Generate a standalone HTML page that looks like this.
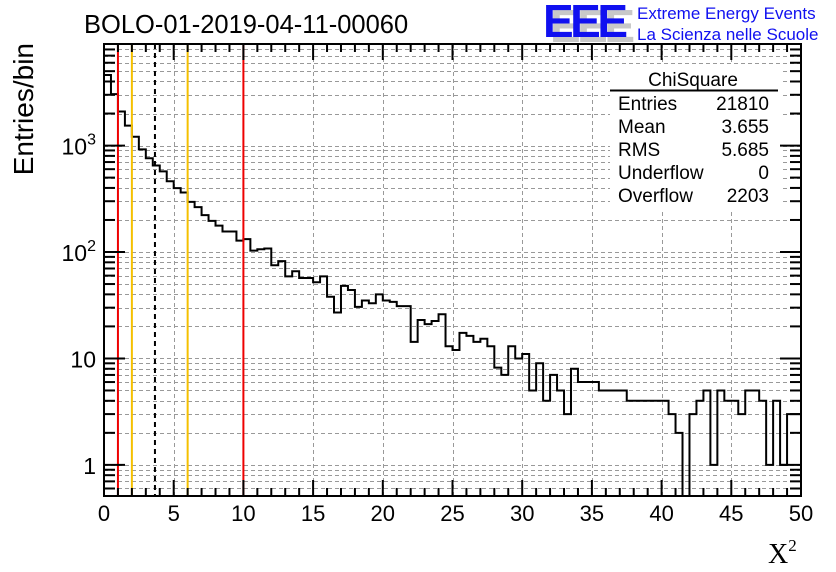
<!DOCTYPE html>
<html><head><meta charset="utf-8"><style>
body{margin:0;background:#fff;width:836px;height:572px;overflow:hidden;font-family:"Liberation Sans",sans-serif}
svg{display:block}
</style></head><body>
<svg id="c" width="836" height="572" xmlns="http://www.w3.org/2000/svg"></svg>
<script>
const binWidth = 0.5;
const counts = [4600,3040,2090,1540,1210,920,760,650,572,462,398,362,296,264,222,196,177,156,156,128,132,103,106,108,75,82,59,66,57,57,52,59,38,27,48,44,30.5,35,33,40,35,34,31,31,14.3,23,21,22.5,26,13,12,17.4,16.3,14.3,15.3,13,8.2,7,13,10,11,5,9,4,7,5,3,8,6,6,6,5,5,5,5,4,4,4,4,4,4,3,2,0,3,4,5,1,5,4,4,3,5,5,4,1,4,1,3,3];
const xTicks = [0,5,10,15,20,25,30,35,40,45,50];
const yTicks = [1,10,100,1000];
const yTickBase = ["1","10","10","10"];
const yTickExp = ["","","2","3"];
const redLines = [1,10];
const orangeLines = [2,6];
const meanLine = [3.655];
const statNames = ["Entries","Mean","RMS","Underflow","Overflow"];
const statValues = ["21810","3.655","5.685","0","2203"];

const L=104,R=801,T=44,B=496,ymin=0.51,ymax=9000;
const sx=v=>L+(v/50)*(R-L);
const sy=v=>B-(Math.log10(v)-Math.log10(ymin))/(Math.log10(ymax)-Math.log10(ymin))*(B-T);
const svg=document.getElementById('c');
const NS="http://www.w3.org/2000/svg";
function mk(tag,attrs,parent){const e=document.createElementNS(NS,tag);for(const k in attrs)e.setAttribute(k,attrs[k]);(parent||svg).appendChild(e);return e;}

// grid
const grid=mk('g',{stroke:'#999','stroke-width':1,'stroke-dasharray':'4,3'});


for(let d=0.1;d<=1000;d*=10){for(let m=1;m<10;m++){const v=d*m;if(v<ymin||v>ymax)continue;const y=Math.round(sy(v))+0.5;mk('line',{x1:L,x2:R,y1:y,y2:y},grid);}}
xTicks.slice(1,-1).forEach(v=>{const x=Math.round(sx(v))+0.5;mk('line',{x1:x,x2:x,y1:T,y2:B},grid);});

// histogram
let d='M'+sx(0)+','+B;
counts.forEach((c,i)=>{const y=c>0?sy(c):B;d+=' L'+sx(i*binWidth)+','+y+' L'+sx((i+1)*binWidth)+','+y;});
d+=' L'+sx(50)+','+B;
const h=mk('path',{d:d,fill:'none',stroke:'#000','stroke-width':2});



// vertical markers
redLines.forEach(v=>{const l=mk('line',{x1:sx(v),x2:sx(v),y1:T,y2:B,stroke:'#e00','stroke-width':2});

});
orangeLines.forEach(v=>{const l=mk('line',{x1:sx(v),x2:sx(v),y1:T,y2:B,stroke:'#f5c000','stroke-width':2});

});
meanLine.forEach(v=>{const l=mk('line',{x1:sx(v),x2:sx(v),y1:T,y2:B,stroke:'#000','stroke-width':2,'stroke-dasharray':'5,4'});

});

// stats box
const sb=mk('g',{});


mk('rect',{x:610,y:65,width:170,height:145,fill:'#fff'},sb);
const st=mk('text',{x:693,y:86,'font-size':19,'text-anchor':'middle'},sb);st.textContent='ChiSquare';
mk('line',{x1:610,x2:778,y1:90.5,y2:90.5,stroke:'#000','stroke-width':2},sb);
statNames.forEach((n,i)=>{const y=110+i*23;
const a=mk('text',{x:618,y:y,'font-size':19},sb);a.textContent=n;
const b=mk('text',{x:769,y:y,'font-size':19,'text-anchor':'end'},sb);b.textContent=statValues[i];});

// frame
const fr=mk('rect',{x:L,y:T,width:R-L,height:B-T,fill:'none',stroke:'#000','stroke-width':2});



// ticks
const tk=mk('g',{stroke:'#000','stroke-width':2});
for(let v=0;v<=50;v++){const x=sx(v);const len=v%5===0?16:8;mk('line',{x1:x,x2:x,y1:B,y2:B-len},tk);mk('line',{x1:x,x2:x,y1:T,y2:T+len},tk);}
for(let dd=0.1;dd<=1000;dd*=10){for(let m=1;m<10;m++){const v=dd*m;if(v<ymin||v>ymax)continue;const y=sy(v);const len=m===1?21:11;mk('line',{x1:L,x2:L+len,y1:y,y2:y},tk);mk('line',{x1:R,x2:R-len,y1:y,y2:y},tk);}}

// tick labels
xTicks.forEach(v=>{const t=mk('text',{x:sx(v),y:521,'font-size':22,'text-anchor':'middle'});t.textContent=v;

});
yTicks.forEach((v,i)=>{const t=mk('text',{x:96,y:sy(v)+9,'font-size':23,'text-anchor':'end'});
t.textContent=yTickBase[i];
if(yTickExp[i]){const s=mk('tspan',{'font-size':16,dy:-10},t);s.textContent=yTickExp[i];}

});

// titles
const ti=mk('text',{x:84,y:33,'font-size':25.5});ti.textContent='BOLO-01-2019-04-11-00060';


const yt=mk('text',{x:0,y:0,'font-size':28,'text-anchor':'end',transform:'translate(33,43) rotate(-90)'});yt.textContent='Entries/bin';


const xt=mk('text',{x:768,y:563,'font-size':28,'font-family':'Liberation Serif, serif'});xt.innerHTML='X<tspan font-size="17" dy="-12">2</tspan>';



// logo
const lg=mk('g',{});


const sh=mk('text',{x:550,y:42,'font-size':46,'font-weight':'bold',fill:'#c8c8c8','textLength':85},lg);sh.textContent='EEE';
const ee=mk('text',{x:543,y:37,'font-size':46,'font-weight':'bold',fill:'#1010f0','textLength':85},lg);ee.textContent='EEE';
const l1=mk('text',{x:637,y:19,'font-size':17,fill:'#1010f0'},lg);l1.textContent='Extreme Energy Events';
const l2=mk('text',{x:637,y:40,'font-size':17,fill:'#1010f0'},lg);l2.textContent='La Scienza nelle Scuole';
</script>
</body></html>
